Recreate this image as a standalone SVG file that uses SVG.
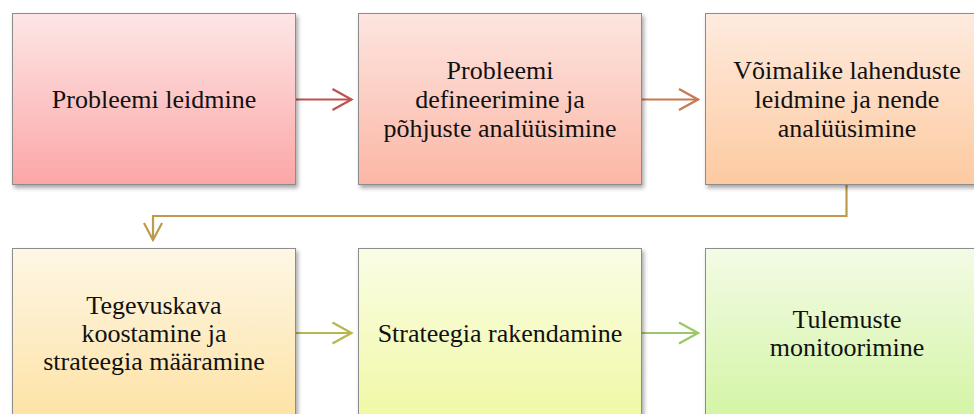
<svg xmlns="http://www.w3.org/2000/svg" width="974" height="414" viewBox="0 0 974 414">
  <style>
    .box { stroke: #8c8c8c; stroke-width: 1; filter: url(#shadow); }
    .lbl { font-family: 'Liberation Serif', 'Times New Roman', Times, serif; font-size: 26px; fill: #111; text-anchor: middle; }
    .con { fill: none; stroke-width: 2.2; }
  </style>
  <defs>
    <filter id="shadow" x="-10%" y="-10%" width="125%" height="130%">
      <feDropShadow dx="2" dy="3" stdDeviation="2" flood-color="#000" flood-opacity="0.35"/>
    </filter>
    <linearGradient id="g1" x1="0" y1="0" x2="0" y2="1">
      <stop offset="0" stop-color="#fde6e6"/><stop offset="1" stop-color="#fca6a6"/>
    </linearGradient>
    <linearGradient id="g2" x1="0" y1="0" x2="0" y2="1">
      <stop offset="0" stop-color="#fde5e0"/><stop offset="1" stop-color="#fcb6a5"/>
    </linearGradient>
    <linearGradient id="g3" x1="0" y1="0" x2="0" y2="1">
      <stop offset="0" stop-color="#feebdf"/><stop offset="1" stop-color="#fdcaa0"/>
    </linearGradient>
    <linearGradient id="g4" x1="0" y1="0" x2="0" y2="1">
      <stop offset="0" stop-color="#fef7e6"/><stop offset="1" stop-color="#fde2a4"/>
    </linearGradient>
    <linearGradient id="g5" x1="0" y1="0" x2="0" y2="1">
      <stop offset="0" stop-color="#fafde6"/><stop offset="1" stop-color="#f1f8a4"/>
    </linearGradient>
    <linearGradient id="g6" x1="0" y1="0" x2="0" y2="1">
      <stop offset="0" stop-color="#f3fbe6"/><stop offset="1" stop-color="#d3f5a4"/>
    </linearGradient>
    <marker id="a1" markerUnits="userSpaceOnUse" markerWidth="24" markerHeight="26" viewBox="-22 -13 24 26" refX="0" refY="0" orient="auto">
      <path d="M-19,-10.5 L0,0 L-19,10.5" fill="none" stroke="#c0504d" stroke-width="2.2"/>
    </marker>
    <marker id="a2" markerUnits="userSpaceOnUse" markerWidth="24" markerHeight="26" viewBox="-22 -13 24 26" refX="0" refY="0" orient="auto">
      <path d="M-19,-10.5 L0,0 L-19,10.5" fill="none" stroke="#c8794e" stroke-width="2.2"/>
    </marker>
    <marker id="a3" markerUnits="userSpaceOnUse" markerWidth="24" markerHeight="26" viewBox="-22 -13 24 26" refX="0" refY="0" orient="auto">
      <path d="M-17,-9 L0,0 L-17,9" fill="none" stroke="#bf9a4b" stroke-width="2.2"/>
    </marker>
    <marker id="a4" markerUnits="userSpaceOnUse" markerWidth="24" markerHeight="26" viewBox="-22 -13 24 26" refX="0" refY="0" orient="auto">
      <path d="M-19,-10.5 L0,0 L-19,10.5" fill="none" stroke="#b8b64e" stroke-width="2.2"/>
    </marker>
    <marker id="a5" markerUnits="userSpaceOnUse" markerWidth="24" markerHeight="26" viewBox="-22 -13 24 26" refX="0" refY="0" orient="auto">
      <path d="M-19,-10.5 L0,0 L-19,10.5" fill="none" stroke="#9cc768" stroke-width="2.2"/>
    </marker>
  </defs>

  <rect width="974" height="414" fill="#fff"/>

  <!-- connectors -->
  <g id="connectors">
    <path class="con" d="M295.5,99.5 H351.5" stroke="#c0504d" marker-end="url(#a1)"/>
    <path class="con" d="M641.5,99.5 H698" stroke="#c8794e" marker-end="url(#a2)"/>
    <path class="con" d="M846.5,184 V216 H153 V240" stroke="#bf9a4b" marker-end="url(#a3)"/>
    <path class="con" d="M295.5,333 H351.5" stroke="#b8b64e" marker-end="url(#a4)"/>
    <path class="con" d="M641.5,333 H698" stroke="#9cc768" marker-end="url(#a5)"/>
  </g>

  <!-- labels use the Times-metric serif -->
  <g font-family="Liberation Serif, serif">
    <!-- top row -->
    <g id="n1">
      <rect class="box" x="12.5" y="13.5" width="283" height="171" fill="url(#g1)"/>
      <text class="lbl" x="154" y="107.5">Probleemi leidmine</text>
    </g>
    <g id="n2">
      <rect class="box" x="358.5" y="13.5" width="283" height="171" fill="url(#g2)"/>
      <text class="lbl" x="500" y="78.5">Probleemi<tspan x="500" dy="29">defineerimine ja</tspan><tspan x="500" dy="29">põhjuste analüüsimine</tspan></text>
    </g>
    <g id="n3">
      <rect class="box" x="705.5" y="13.5" width="283" height="171" fill="url(#g3)"/>
      <text class="lbl" x="847" y="78.5">Võimalike lahenduste<tspan x="847" dy="29">leidmine ja nende</tspan><tspan x="847" dy="29">analüüsimine</tspan></text>
    </g>

    <!-- bottom row -->
    <g id="n4">
      <rect class="box" x="12.5" y="248.5" width="283" height="171" fill="url(#g4)"/>
      <text class="lbl" x="154" y="313.5">Tegevuskava<tspan x="154" dy="28">koostamine ja</tspan><tspan x="154" dy="28">strateegia määramine</tspan></text>
    </g>
    <g id="n5">
      <rect class="box" x="358.5" y="248.5" width="283" height="171" fill="url(#g5)"/>
      <text class="lbl" x="500" y="341.5">Strateegia rakendamine</text>
    </g>
    <g id="n6">
      <rect class="box" x="705.5" y="248.5" width="283" height="171" fill="url(#g6)"/>
      <text class="lbl" x="847" y="327.5">Tulemuste<tspan x="847" dy="28">monitoorimine</tspan></text>
    </g>
  </g>
</svg>
